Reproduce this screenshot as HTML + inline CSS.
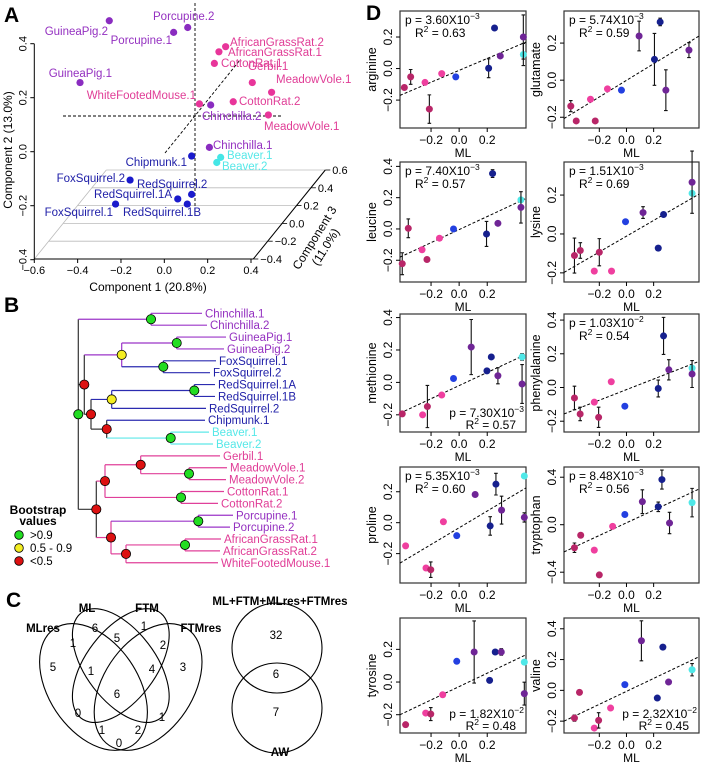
<!DOCTYPE html>
<html><head><meta charset="utf-8">
<style>
html,body{margin:0;padding:0;background:#fff;}
svg{display:block;font-family:"Liberation Sans",Arial,sans-serif;}
</style></head>
<body>
<svg id="fig" width="702" height="765" viewBox="0 0 702 765" xmlns="http://www.w3.org/2000/svg">
<text x="4" y="22" font-size="21" font-weight="bold">A</text>
<text x="4" y="312" font-size="21" font-weight="bold">B</text>
<text x="6" y="607" font-size="21" font-weight="bold">C</text>
<text x="366" y="20" font-size="21" font-weight="bold">D</text>
<g id="pA"></g>
<g id="pB"></g>
<g id="pC"></g>
<g id="pD"></g>
</svg>
<script>
// ---------- Panel A data ----------
const aNames=['GuineaPig.2','Porcupine.2','Porcupine.1','AfricanGrassRat.2','AfricanGrassRat.1','CottonRat.1','GuineaPig.1','Gerbil.1','MeadowVole.1','CottonRat.2','WhiteFootedMouse.1','Chinchilla.2','MeadowVole.1','Chinchilla.1','Beaver.1','Beaver.2','Chipmunk.1','FoxSquirrel.2','RedSquirrel.2','RedSquirrel.1A','RedSquirrel.1B','FoxSquirrel.1'];
const aComp1=[-0.254,0.108,0.043,0.283,0.252,0.231,-0.389,0.406,0.495,0.318,0.162,0.214,0.48,0.208,0.26,0.242,0.126,-0.158,0.126,0.062,0.106,-0.225];
const aComp2=[0.485,0.46,0.442,0.389,0.37,0.327,0.256,0.256,0.22,0.185,0.177,0.173,0.136,0.016,-0.021,-0.04,-0.016,-0.105,-0.158,-0.175,-0.194,-0.194];
const aGroup=['v','v','v','p','p','p','v','p','p','p','p','v','p','v','c','c','b','b','b','b','b','b'];
const aXTicks=[-0.6,-0.4,-0.2,0.0,0.2,0.4];
const aYTicks=[-0.4,-0.2,0.0,0.2,0.4];
const aZTicks=[-0.4,-0.2,0.0,0.2,0.4,0.6];
// label layout (pixel anchors, not data)
const aLabelPos=[[108,35,'end'],[153,20,'start'],[172,44,'end'],[230,46,'start'],[228,56,'start'],[221,67,'start'],[112,77,'end'],[248,70,'start'],[276,83,'start'],[239,105,'start'],[196,99,'end'],[202,120,'start'],[264,130,'start'],[213,149,'start'],[227,159,'start'],[222,170,'start'],[187,166,'end'],[125,182,'end'],[137,188,'start'],[172,198,'end'],[123,216,'start'],[113,216,'end']];

// ---------- Panel B data ----------
const bTips=['Chinchilla.1','Chinchilla.2','GuineaPig.1','GuineaPig.2','FoxSquirrel.1','FoxSquirrel.2','RedSquirrel.1A','RedSquirrel.1B','RedSquirrel.2','Chipmunk.1','Beaver.1','Beaver.2','Gerbil.1','MeadowVole.1','MeadowVole.2','CottonRat.1','CottonRat.2','Porcupine.1','Porcupine.2','AfricanGrassRat.1','AfricanGrassRat.2','WhiteFootedMouse.1'];
const bTipEnd=[202,207,226,224,216,210,215,215,206,205,209,213,220,227,226,224,218,233,230,221,220,218];
const bTipGroup=['v','v','v','v','b','b','b','b','b','b','c','c','p','p','p','p','p','v','v','p','p','p'];

// ---------- Panel C data ----------
const cSets=['MLres','ML','FTM','FTMres'];
const cCounts=['6','1','1','5','2','5','1','4','3','6','0','1','1','2','0'];
const cPairCounts=['32','6','7'];

// ---------- Panel D data ----------
const dNames=['arginine','glutamate','leucine','lysine','methionine','phenylalanine','proline','tryptophan','tyrosine','valine'];
const dP=['3.60','5.74','7.40','1.51','7.30','1.03','5.35','8.48','1.82','2.32'];
const dPexp=['-3','-3','-3','-3','-3','-2','-3','-3','-2','-2'];
const dR2=['0.63','0.59','0.57','0.69','0.57','0.54','0.60','0.56','0.48','0.45'];
const dXTicks=[-0.2,0.0,0.2];
const dYTicks=[[-0.2,0,0.2],[-0.2,0,0.2],[-0.2,0,0.2,0.4],[-0.2,0,0.2],[-0.2,0,0.2,0.4],[-0.2,0,0.2,0.4],[-0.2,0,0.2],[-0.4,0,0.4],[-0.2,0,0.2],[-0.2,0,0.2,0.4]];
const dYDomain=[[-0.377,0.365],[-0.258,0.373],[-0.339,0.428],[-0.247,0.37],[-0.306,0.422],[-0.264,0.436],[-0.39,0.36],[-0.491,0.486],[-0.312,0.392],[-0.277,0.47]];
const dFit=[[-0.17,0.168],[-0.207,0.238],[-0.18,0.195],[-0.198,0.205],[-0.19,0.173],[-0.157,0.155],[-0.261,0.225],[-0.229,0.3],[-0.2,0.167],[-0.2,0.218]];
const dX=[
[-0.39,-0.345,-0.243,-0.212,-0.124,-0.024,0.21,0.252,0.293,0.457,0.457],
[-0.41,-0.37,-0.265,-0.23,-0.14,-0.037,0.093,0.206,0.248,0.29,0.46],
[-0.405,-0.362,-0.264,-0.229,-0.14,-0.04,0.195,0.238,0.276,0.44,0.44],
[-0.383,-0.34,-0.2,-0.237,-0.11,-0.007,0.122,0.234,0.273,0.483,0.483],
[-0.405,-0.26,-0.226,-0.124,-0.04,0.086,0.198,0.229,0.276,0.448,0.448],
[-0.383,-0.341,-0.237,-0.205,-0.112,-0.012,0.234,0.273,0.312,0.483,0.483],
[-0.381,-0.236,-0.202,-0.112,-0.017,0.114,0.221,0.262,0.302,0.464,0.464],
[-0.383,-0.337,-0.237,-0.2,-0.102,-0.012,0.117,0.234,0.261,0.317,0.483],
[-0.381,-0.238,-0.202,-0.117,-0.017,0.107,0.217,0.257,0.3,0.464,0.464],
[-0.383,-0.346,-0.237,-0.205,-0.117,-0.012,0.11,0.227,0.268,0.31,0.483]];
const dY=[
[-0.12,-0.053,-0.088,-0.257,-0.032,-0.053,0.002,0.257,0.08,0.089,0.2],
[-0.14,-0.22,-0.103,-0.22,-0.047,-0.054,0.238,0.112,0.314,-0.054,0.162],
[-0.222,0.004,-0.133,-0.195,-0.059,0,-0.032,0.354,0.036,0.186,0.138],
[-0.111,-0.085,-0.094,-0.191,-0.191,0.063,0.11,-0.073,0.1,0.209,0.266],
[-0.194,-0.2,-0.149,-0.078,0.024,0.218,0.071,0.157,0.041,0.157,-0.01],
[-0.062,-0.157,-0.087,-0.177,0.034,-0.111,-0.006,0.306,0.105,0.115,0.08],
[-0.15,-0.293,-0.304,0.006,-0.084,0.182,-0.021,0.249,0.081,0.302,0.034],
[-0.194,-0.089,-0.214,-0.423,-0.014,0.086,0.194,0.151,0.38,0.014,0.186],
[-0.261,-0.19,-0.196,-0.078,0.127,0.184,0.01,0.184,0.184,0.122,-0.071],
[-0.18,-0.013,-0.245,-0.195,-0.115,0.037,0.322,-0.05,0.281,0.054,0.134]];
const dErr=[
[0.015,0.047,0,0.09,0,0,0.06,0,0,0.07,0.14],
[0.03,0,0,0,0,0,0.08,0.14,0.02,0.11,0.04],
[0.07,0.06,0,0,0,0,0.08,0.025,0,0,0.1],
[0.09,0.04,0.07,0,0,0,0.03,0,0,0,0.16],
[0,0,0.13,0,0,0.17,0,0,0.05,0.02,0.12],
[0.07,0.04,0,0.06,0,0,0.05,0.11,0.06,0,0.08],
[0,0,0.05,0,0,0,0.06,0.07,0.09,0,0.03],
[0.04,0,0,0,0,0,0.1,0.04,0.08,0.09,0.12],
[0,0,0.04,0,0,0.19,0,0,0.02,0,0.07],
[0.02,0,0,0.05,0,0,0.13,0,0,0,0.04]];
const dCol=[
['d','d','p','d','p','b','n','n','v','c','v'],
['d','d','p','d','p','b','v','n','n','v','v'],
['d','d','p','d','p','b','n','n','v','c','v'],
['d','d','d','p','p','b','v','n','n','c','v'],
['d','p','d','p','b','v','n','n','v','c','v'],
['d','d','p','d','p','b','n','n','v','c','v'],
['p','p','d','p','b','v','n','n','v','c','v'],
['d','d','p','d','p','b','v','n','n','v','c'],
['d','p','d','p','b','v','n','n','v','c','v'],
['d','d','p','d','p','b','v','n','n','v','c']];
const dStatPos=['tl','tl','tl','tl','br','tl','tl','tl','br','br'];

const NS='http://www.w3.org/2000/svg';
function mk(tag,at,parent){const e=document.createElementNS(NS,tag);for(const k in at)e.setAttribute(k,at[k]);parent.appendChild(e);return e;}
const ptCol={d:'#b82668',p:'#ef3f9f',b:'#2340e0',n:'#16208e',v:'#6f2596',c:'#4fe8e8'};
const aCol={v:'#8a2cc0',p:'#e8359a',b:'#1a1acc',c:'#45e6e6'};
const txCol={v:'#9430c0',p:'#e03c96',b:'#2020a8',c:'#55e8e8'};
const edgeCol={v:'#9b35c8',p:'#e0409a',b:'#2b2bb0',c:'#5ee8e8',k:'#333'};
const bsCol={g:'#22dd22',y:'#f4ee22',r:'#dd1111'};

// ---------- Panel A ----------
(function(){
const g=document.getElementById('pA');
const X=v=>34.3+(v+0.6)*216.7, Y=v=>151.7-v*270;
const x0=34.3,x1=253.3,yb=259,yt=170,slant=72;
aZTicks.forEach((z,i)=>{
  const yy=yb-(z+0.4)/1.0*(yb-yt); const dx=(yb-yy)/(yb-yt)*slant;
  let l=mk('line',{x1:x0+dx,y1:yy,x2:x1+dx,y2:yy,stroke:'#bbb','stroke-width':0.8},g);
  
  
  let t=mk('line',{x1:x1+dx,y1:yy,x2:x1+dx+5,y2:yy,stroke:'#000','stroke-width':0.8},g);
  
  
  let tl=mk('text',{x:x1+dx+7,y:yy+4,'font-size':11},g);tl.textContent=z.toFixed(1).replace('-','\u2212');
  
  
});
[[x0,yb,x0+slant,yt],[x1,yb,x1+slant,yt]].forEach(s=>{let l=mk('line',{x1:s[0],y1:s[1],x2:s[2],y2:s[3],stroke:'#bbb','stroke-width':0.8},g);

});
let r=mk('line',{x1:x1,y1:yb,x2:x1+slant,y2:yt,stroke:'#000','stroke-width':1},g);


let xa=mk('line',{x1:x0,y1:yb,x2:x1,y2:yb,stroke:'#000','stroke-width':1},g);


let ya=mk('line',{x1:x0,y1:Y(0.4),x2:x0,y2:yb,stroke:'#000','stroke-width':1},g);


aXTicks.forEach(v=>{let t=mk('line',{x1:X(v),y1:yb,x2:X(v),y2:yb+4,stroke:'#000'},g);


let l=mk('text',{x:X(v),y:yb+15,'font-size':11,'text-anchor':'middle'},g);l.textContent=v.toFixed(1).replace('-','\u2212');

});
aYTicks.forEach(v=>{let t=mk('line',{x1:x0-4,y1:Y(v),x2:x0,y2:Y(v),stroke:'#000'},g);


let l=mk('text',{x:0,y:0,'font-size':11,'text-anchor':'middle',transform:`translate(${x0-8},${Y(v)}) rotate(-90)`},g);l.textContent=v.toFixed(1).replace('-','\u2212');

});
[[195,3,195,215],[63,116,283,116],[165,153,240,60]].forEach(s=>{let l=mk('line',{x1:s[0],y1:s[1],x2:s[2],y2:s[3],stroke:'#000','stroke-width':0.9,'stroke-dasharray':'3,2'},g);

});
aComp1.forEach((v,i)=>{
  let c=mk('circle',{cx:X(v),cy:Y(aComp2[i]),r:3.6,fill:aCol[aGroup[i]]},g);
  
  
  const p=aLabelPos[i];
  let t=mk('text',{x:p[0],y:p[1],'font-size':11.5,'text-anchor':p[2],fill:txCol[aGroup[i]]},g);t.textContent=aNames[i];
  
  
});
let xt=mk('text',{x:148,y:291,'font-size':12,'text-anchor':'middle'},g);xt.textContent='Component 1 (20.8%)';


let yt2=mk('text',{x:0,y:0,'font-size':12,'text-anchor':'middle',transform:'translate(12,150) rotate(-90)'},g);yt2.textContent='Component 2 (13.0%)';


let zt=mk('text',{x:0,y:0,'font-size':12,'text-anchor':'middle',transform:'translate(318,240) rotate(-58)'},g);zt.textContent='Component 3';


let zt2=mk('text',{x:0,y:0,'font-size':12,'text-anchor':'middle',transform:'translate(329,249) rotate(-58)'},g);zt2.textContent='(11.0%)';


})();

// ---------- Panel B ----------
(function(){
const g=document.getElementById('pB');
const tipY=i=>313.3+i*11.88;
const T=i=>({t:i});
const tree={x:78.3,col:'k',bs:'g',kids:[
 {x:151,col:'v',bs:'g',kids:[T(0),T(1)]},
 {x:84.3,col:'k',bs:'r',kids:[
   {x:121.7,col:'v',bs:'y',kids:[{x:176.7,col:'v',bs:'g',kids:[T(2),T(3)]},{x:163.3,col:'b',bs:'g',kids:[T(4),T(5)]}]},
   {x:91,col:'k',bs:'r',kids:[
     {x:111.7,col:'b',bs:'y',kids:[{x:194.3,col:'b',bs:'g',kids:[T(6),T(7)]},T(8)]},
     {x:106.7,col:'k',bs:'r',kids:[T(9),{x:170.7,col:'c',bs:'g',kids:[T(10),T(11)]}]}]}]},
 {x:96.3,col:'k',bs:'r',kids:[
   {x:105,col:'p',bs:'r',kids:[{x:140.7,col:'p',bs:'r',kids:[T(12),{x:189,col:'p',bs:'g',kids:[T(13),T(14)]}]},{x:181,col:'p',bs:'g',kids:[T(15),T(16)]}]},
   {x:111,col:'p',bs:'r',kids:[{x:198.3,col:'v',bs:'g',kids:[T(17),T(18)]},{x:126,col:'p',bs:'r',kids:[{x:185,col:'p',bs:'g',kids:[T(19),T(20)]},T(21)]}]}]}]};
function lay(n){ if(n.t!==undefined){n.y=tipY(n.t);n.x=bTipEnd[n.t];n.col=bTipGroup[n.t];return;} n.kids.forEach(lay); n.y=(n.kids[0].y+n.kids[n.kids.length-1].y)/2;}
lay(tree);
const circles=[];
function draw(n){
  if(n.t!==undefined){
    let t=mk('text',{x:n.x+3,y:n.y+4,'font-size':11.5,fill:txCol[n.col]},g);t.textContent=bTips[n.t];
    
    
    return;}
  let v=mk('line',{x1:n.x,y1:n.kids[0].y,x2:n.x,y2:n.kids[n.kids.length-1].y,stroke:edgeCol[n.col],'stroke-width':1.2},g);
  
  
  n.kids.forEach(k=>{let h=mk('line',{x1:n.x,y1:k.y,x2:k.x,y2:k.y,stroke:edgeCol[k.col],'stroke-width':1.2},g);
  
  draw(k);});
  circles.push(n);
}
draw(tree);
circles.forEach(n=>{let c=mk('circle',{cx:n.x,cy:n.y,r:4.6,fill:bsCol[n.bs],stroke:'#000','stroke-width':0.8},g);

});
let l1=mk('text',{x:38,y:514,'font-size':12,'font-weight':'bold','text-anchor':'middle'},g);l1.textContent='Bootstrap';


let l2=mk('text',{x:38,y:525,'font-size':12,'font-weight':'bold','text-anchor':'middle'},g);l2.textContent='values';


[['g','>0.9',535],['y','0.5 - 0.9',548],['r','<0.5',561]].forEach(e=>{
 let c=mk('circle',{cx:19,cy:e[2],r:4.3,fill:bsCol[e[0]],stroke:'#000','stroke-width':0.8},g);
 
 
 let t=mk('text',{x:30,y:e[2]+4,'font-size':11.5},g);t.textContent=e[1];
 
 });
})();

// ---------- Panel C ----------
(function(){
const g=document.getElementById('pC');
const eg=mk('g',{transform:'translate(120.8,626) scale(182,214) translate(-0.5,-0.245)'},g);


[[0.35,0.53,0.35,0.23,45],[0.5,0.43,0.33,0.18,45],[0.5,0.43,0.33,0.18,-45],[0.65,0.53,0.35,0.23,-45]].forEach((e,i)=>{
 let el=mk('ellipse',{cx:e[0],cy:e[1],rx:e[2],ry:e[3],fill:'none',stroke:'#000','stroke-width':1.1,'vector-effect':'non-scaling-stroke',transform:`rotate(${e[4]} ${e[0]} ${e[1]})`},eg);
 
 });
[[43,632],[87,612],[147,612],[201,632]].forEach((p,i)=>{let t=mk('text',{x:p[0],y:p[1],'font-size':11.5,'font-weight':'bold','text-anchor':'middle'},g);t.textContent=cSets[i];

});
[[95,632],[144,630],[73,647],[117,642],[163,649],[53,671],[91,675],[152,673],[183,671],[117,698],[78,717],[162,721],[102,734],[138,734],[119,747]].forEach((p,i)=>{let t=mk('text',{x:p[0],y:p[1],'font-size':11.5,'text-anchor':'middle'},g);t.textContent=cCounts[i];

});
[[277,648],[277,708]].forEach(c=>{let e=mk('circle',{cx:c[0],cy:c[1],r:45,fill:'none',stroke:'#000','stroke-width':1.1},g);

});
[[276,639],[276,678],[276,716]].forEach((p,i)=>{let t=mk('text',{x:p[0],y:p[1],'font-size':11.5,'text-anchor':'middle'},g);t.textContent=cPairCounts[i];

});
let t1=mk('text',{x:280,y:605,'font-size':11.5,'font-weight':'bold','text-anchor':'middle'},g);t1.textContent='ML+FTM+MLres+FTMres';


let t2=mk('text',{x:280,y:756,'font-size':11.5,'font-weight':'bold','text-anchor':'middle'},g);t2.textContent='AW';


})();

// ---------- Panel D ----------
(function(){
const g=document.getElementById('pD');
const cols=[[400,526,-0.421,0.476],[564,699,-0.46,0.534]];
const rows=[[11,128],[162,282],[314,432],[467,583],[618,733]];
const fmt=v=>v.toFixed(1).replace('-','\u2212');
dNames.forEach((nm,k)=>{
 const c=cols[k%2], r=rows[Math.floor(k/2)];
 const [L,R,xmin,xmax]=c,[T,B]=r,[ymin,ymax]=dYDomain[k];
 const X=v=>L+(v-xmin)/(xmax-xmin)*(R-L), Y=v=>B-(v-ymin)/(ymax-ymin)*(B-T);
 const pg=mk('g',{},g);
 
 
 let box=mk('rect',{x:L,y:T,width:R-L,height:B-T,fill:'none',stroke:'#333','stroke-width':1.2},pg);
 
 
 dXTicks.forEach(v=>{let t=mk('line',{x1:X(v),y1:B,x2:X(v),y2:B+4,stroke:'#000'},pg);
 
 
 let l=mk('text',{x:X(v),y:B+16,'font-size':12,'text-anchor':'middle'},pg);l.textContent=fmt(v);
 
 });
 let xt=mk('text',{x:(L+R)/2,y:B+29,'font-size':12,'text-anchor':'middle'},pg);xt.textContent='ML';
 
 
 dYTicks[k].forEach(v=>{let t=mk('line',{x1:L-4,y1:Y(v),x2:L,y2:Y(v),stroke:'#000'},pg);
 
 
 let l=mk('text',{x:0,y:0,'font-size':12,'text-anchor':'middle',transform:`translate(${L-8},${Y(v)}) rotate(-90)`},pg);l.textContent=fmt(v);
 
 });
 let yt=mk('text',{x:0,y:0,'font-size':12.5,'text-anchor':'middle',transform:`translate(${L-24},${(T+B)/2}) rotate(-90)`},pg);yt.textContent=nm;
 
 
 let fl=mk('line',{x1:X(xmin),y1:Y(dFit[k][0]),x2:X(xmax),y2:Y(dFit[k][1]),stroke:'#000','stroke-width':1,'stroke-dasharray':'3,2'},pg);
 
 
 dX[k].forEach((xv,i)=>{
   const yv=dY[k][i], e=dErr[k][i];
   if(e>0){
     let eb=mk('path',{d:`M${X(xv)},${Y(yv+e)}V${Y(yv-e)}M${X(xv)-1.8},${Y(yv+e)}h3.6M${X(xv)-1.8},${Y(yv-e)}h3.6`,stroke:'#111','stroke-width':1.1,fill:'none'},pg);
     
     
   }
   let p=mk('circle',{cx:X(xv),cy:Y(yv),r:3.5,fill:ptCol[dCol[k][i]]},pg);
   
   
 });
 let ps,rs;
 if(dStatPos[k]==='tl'){
   ps=mk('text',{x:L+5,y:T+13,'font-size':12},pg);
   rs=mk('text',{x:L+15,y:T+26,'font-size':12},pg);
 } else {
   ps=mk('text',{x:R-2,y:B-15,'font-size':12,'text-anchor':'end'},pg);
   rs=mk('text',{x:R-10,y:B-3,'font-size':12,'text-anchor':'end'},pg);
 }
 
 
 
 
 ps.appendChild(document.createTextNode('p = '+dP[k]+'X10'));
 let sp=mk('tspan',{dy:-5,'font-size':8.5},ps);sp.textContent=dPexp[k].replace('-','\u2212');
 rs.appendChild(document.createTextNode('R'));
 let s2=mk('tspan',{dy:-5,'font-size':8.5},rs);s2.textContent='2';
 let s3=mk('tspan',{dy:5},rs);s3.textContent=' = '+dR2[k];
});
})();
</script>
</body></html>
